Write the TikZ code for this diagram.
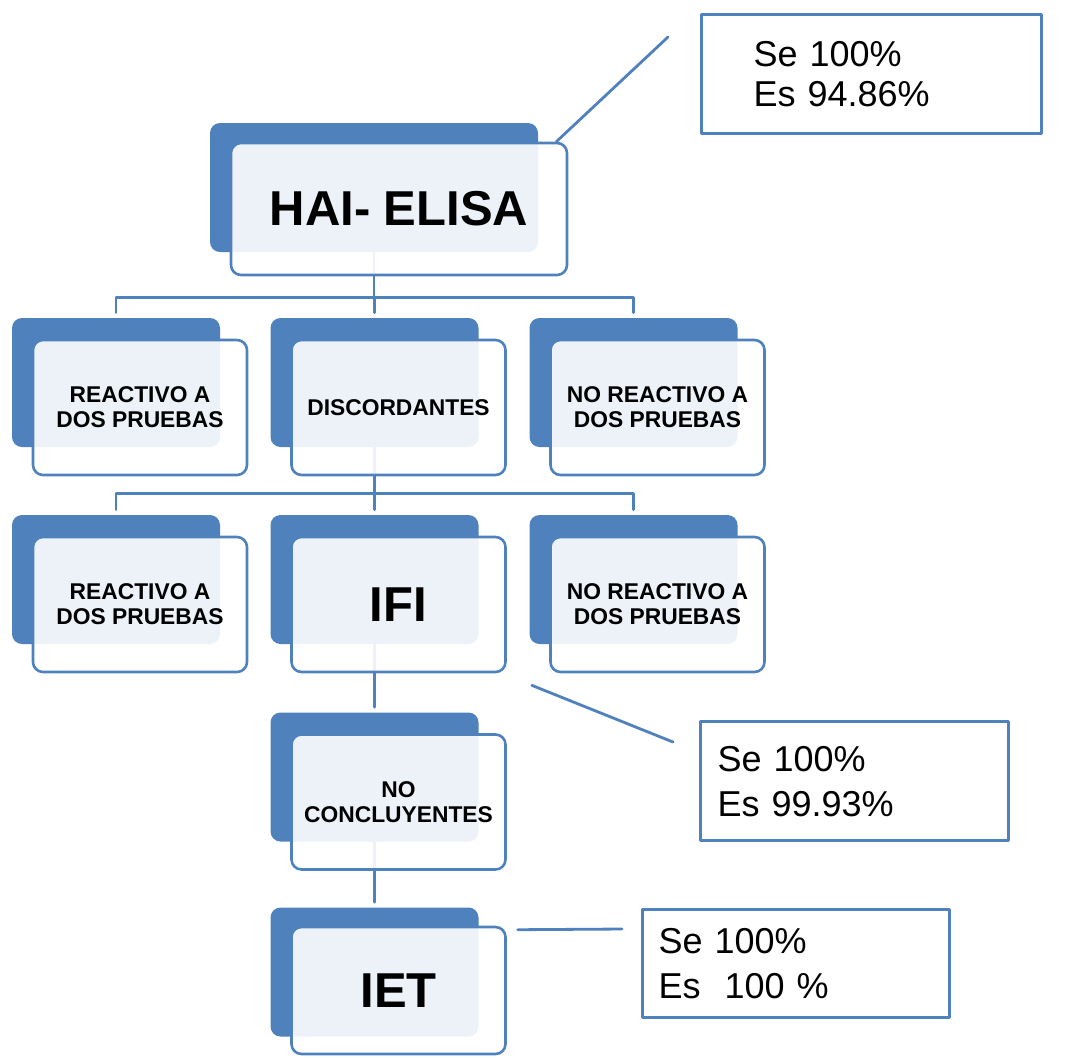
\documentclass[tikz,border=0pt]{standalone}
\usepackage{fontspec}
\setmainfont{Liberation Sans}
\definecolor{boxblue}{RGB}{79,129,189}
\begin{document}
\begin{tikzpicture}[x=0.5pt, y=-0.5pt, line join=round, line cap=round,
	back/.style={rectangle, rounded corners=5pt, fill=boxblue, minimum width=104pt, minimum height=64.5pt, inner sep=0pt},
	front/.style={rectangle, rounded corners=5pt, draw=boxblue, line width=1.3pt, fill=white, fill opacity=0.9, text opacity=1, minimum width=107pt, minimum height=67.5pt, inner sep=0pt, align=center, font=\bfseries\fontsize{11.4}{12.5}\selectfont},
	big/.style={font=\bfseries\fontsize{24.5}{28}\selectfont},
	link/.style={draw=boxblue, line width=1.4pt},
	note/.style={rectangle, draw=boxblue, line width=1.6pt, anchor=north west, align=left, inner ysep=0pt, font=\fontsize{18}{22.5}\selectfont}]
	\useasboundingbox (0,0) rectangle (1075,1057);
	% blue boxes behind
	\node[back, minimum width=164pt] (hai-b) at (374,187.5) {};
	\foreach \n/\x in {ra/116, dis/374.5, nra/633.5} \node[back] (\n-b) at (\x,382.5) {};
	\foreach \n/\x in {rb/116, ifi/374.5, nrb/633.5} \node[back] (\n-b) at (\x,579.5) {};
	\node[back] (conc-b) at (374.5,777) {};
	\node[back] (iet-b) at (374.5,972) {};
	% tree lines
	\draw[link] (hai-b.south) -- ++(0,45) coordinate (j1);
	\foreach \n in {ra, dis, nra} \draw[link, shorten >=2.5pt] (j1) -| (\n-b.north);
	\draw[link] (dis-b.south) -- ++(0,46) coordinate (j2);
	\foreach \n in {rb, ifi, nrb} \draw[link, shorten >=2.5pt] (j2) -| (\n-b.north);
	\draw[link, shorten >=2.5pt] (ifi-b.south) -- (conc-b.north);
	\draw[link, shorten >=2.5pt] (conc-b.south) -- (iet-b.north);
	% front boxes
	\node[front, big, minimum width=168pt, minimum height=66pt, shift={(25,21.5)}] (hai) at (hai-b) {HAI- ELISA};
	\foreach \n/\t in {ra/REACTIVO A\\DOS PRUEBAS, dis/DISCORDANTES, nra/NO REACTIVO A\\DOS PRUEBAS, rb/REACTIVO A\\DOS PRUEBAS, nrb/NO REACTIVO A\\DOS PRUEBAS, conc/NO\\CONCLUYENTES}
		\node[front, shift={(24,25)}] (\n) at (\n-b) {\t};
	\node[front, big, shift={(24,25)}] (ifi) at (ifi-b) {IFI};
	\node[front, big, minimum height=63.5pt, shift={(24,18.5)}] (iet) at (iet-b) {IET};
	% results
	\node[note, minimum height=59.5pt, inner xsep=26pt, text width=118pt, font=\fontsize{18}{20}\selectfont] (se1) at (700,13) {Se 100\%\\Es 94.86\%};
	\node[note, minimum height=59.5pt, inner xsep=8.5pt, text width=137pt] (se2) at (699,720) {Se 100\%\\Es 99.93\%};
	\node[note, minimum height=54pt, inner xsep=8pt, text width=137.5pt] (se3) at (641,908) {Se 100\%\\Es\ \ 100 \%};
	\coordinate (c1) at (668,37);
	\coordinate (c2) at (673,742);
	\coordinate (c3) at (622,929);
	\draw[link] ([xshift=-6pt]hai.north east) -- (c1);
	\draw[link] ([shift={(25,12)}]ifi.south east) -- (c2);
	\draw[link] ([shift={(11,4)}]iet.north east) -- (c3);
\end{tikzpicture}
\end{document}
